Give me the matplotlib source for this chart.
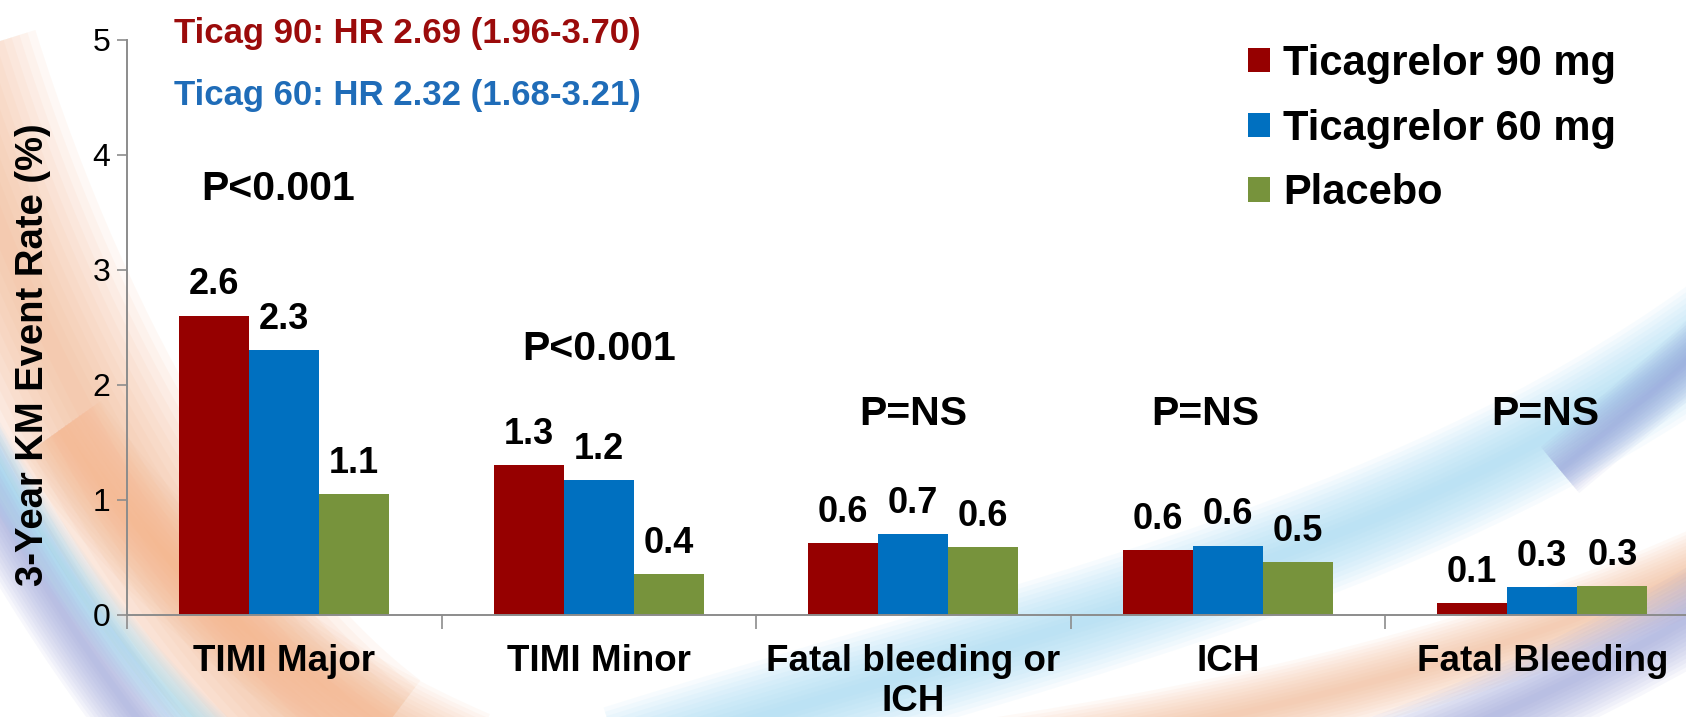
import numpy as np
import matplotlib as mpl
mpl.use("Agg")
import matplotlib.pyplot as plt
from matplotlib.path import Path
from matplotlib.patches import PathPatch

CATEGORIES = ["TIMI Major", "TIMI Minor", "Fatal bleeding or\nICH", "ICH", "Fatal Bleeding"]
SERIES = ["Ticagrelor 90 mg", "Ticagrelor 60 mg", "Placebo"]

# bar heights
TICAG_90 = [2.60, 1.30, 0.62, 0.56, 0.10]
TICAG_60 = [2.30, 1.17, 0.70, 0.60, 0.24]
PLACEBO = [1.05, 0.35, 0.59, 0.46, 0.25]

# printed value labels
LABELS_90 = ["2.6", "1.3", "0.6", "0.6", "0.1"]
LABELS_60 = ["2.3", "1.2", "0.7", "0.6", "0.3"]
LABELS_PL = ["1.1", "0.4", "0.6", "0.5", "0.3"]

P_TEXT = ["P<0.001", "P<0.001", "P=NS", "P=NS", "P=NS"]
P_X = [-0.02, 1.0, 2.0, 2.93, 4.01]
P_Y = [3.70, 2.31, 1.74, 1.74, 1.74]

HR_LINES = ["Ticag 90: HR 2.69 (1.96-3.70)", "Ticag 60: HR 2.32 (1.68-3.21)"]

COLORS = {
    "t90": "#960000",
    "t60": "#0070C0",
    "pl": "#77933C",
    "hr90": "#9B0B0B",
    "hr60": "#1F6CB8",
    "axis": "#8C8C8C",
}

W, H = 1686, 717


def soft_band(ax, pts, width, color, alpha=0.07, steps=12):
    codes = [Path.MOVETO] + [Path.CURVE4] * (len(pts) - 1)
    path = Path(pts, codes)
    for k in range(steps):
        lw = width * (1 - k / steps) / 1.389
        ax.add_patch(PathPatch(path, facecolor="none", edgecolor=color,
                               linewidth=lw, alpha=alpha, capstyle="butt"))


def draw_background(fig):
    bg = fig.add_axes([0, 0, 1, 1], zorder=0)
    bg.set_xlim(0, W)
    bg.set_ylim(H, 0)
    bg.axis("off")
    # left swoosh
    soft_band(bg, [(-60, 60), (40, 380), (200, 640), (360, 760)], 200, "#F4B286", alpha=0.08)
    soft_band(bg, [(-80, 360), (0, 520), (80, 650), (170, 760)], 80, "#8E98D6")
    soft_band(bg, [(-30, 420), (50, 560), (140, 680), (240, 760)], 50, "#9AD8F4")
    soft_band(bg, [(60, 430), (180, 600), (330, 700), (470, 760)], 100, "#F4B286")
    # right swoosh
    soft_band(bg, [(620, 760), (1000, 640), (1400, 560), (1720, 330)], 110, "#9AD8F4", alpha=0.08)
    soft_band(bg, [(980, 760), (1250, 720), (1500, 660), (1720, 560)], 80, "#F4B286")
    soft_band(bg, [(1330, 780), (1500, 720), (1620, 660), (1720, 600)], 90, "#8E98D6")
    soft_band(bg, [(1560, 470), (1620, 420), (1680, 370), (1720, 330)], 60, "#8E98D6")


def main():
    plt.rcParams["font.family"] = ["Liberation Sans", "DejaVu Sans"]
    fig = plt.figure(figsize=(W / 100, H / 100), dpi=100)
    fig.patch.set_facecolor("white")
    draw_background(fig)

    left = 127 / W
    bottom = (H - 614.5) / H
    width = 1572.5 / W
    height = 575 / H
    ax = fig.add_axes([left, bottom, width, height], zorder=1)
    ax.patch.set_alpha(0)

    x = np.arange(len(CATEGORIES))
    bw = 0.2226
    series = [
        (TICAG_90, LABELS_90, COLORS["t90"]),
        (TICAG_60, LABELS_60, COLORS["t60"]),
        (PLACEBO, LABELS_PL, COLORS["pl"]),
    ]
    for i, (vals, labs, col) in enumerate(series):
        xs = x + (i - 1) * bw
        ax.bar(xs, vals, width=bw, color=col, label=SERIES[i], zorder=2)
        for xi, v, lab in zip(xs, vals, labs):
            ax.annotate(lab, (xi, v), xytext=(0, 22), textcoords="offset points",
                        ha="center", va="center", fontsize=26, fontweight="bold")

    for px, py, t in zip(P_X, P_Y, P_TEXT):
        ax.text(px, py, t, ha="center", va="center", fontsize=29.5, fontweight="bold")

    ax.set_xlim(-0.5, len(CATEGORIES) - 0.5)
    ax.set_ylim(0, 5)
    ax.set_yticks([0, 1, 2, 3, 4, 5])
    ax.set_xticks(np.arange(len(CATEGORIES) + 1) - 0.5)
    ax.set_xticklabels([])
    ax.set_xticks(x, minor=True)
    ax.set_xticklabels(CATEGORIES, minor=True, fontsize=26.5, fontweight="bold")
    ax.tick_params(axis="x", which="minor", length=0, pad=21)
    ax.tick_params(axis="x", which="major", length=10, width=1.2, color=COLORS["axis"])
    ax.tick_params(axis="y", length=7, width=1.2, color=COLORS["axis"], labelsize=23, pad=5)
    for s in ("top", "right"):
        ax.spines[s].set_visible(False)
    for s in ("left", "bottom"):
        ax.spines[s].set_color(COLORS["axis"])
        ax.spines[s].set_linewidth(1.4)

    fig.text(33 / W, 1 - 355 / H, "3-Year KM Event Rate (%)", rotation=90,
             ha="center", va="center", fontsize=27.5, fontweight="bold")

    fig.text(174 / W, 1 - 33 / H, HR_LINES[0], ha="left", va="center",
             fontsize=25, fontweight="bold", color=COLORS["hr90"])
    fig.text(174 / W, 1 - 95 / H, HR_LINES[1], ha="left", va="center",
             fontsize=25, fontweight="bold", color=COLORS["hr60"])

    ax.legend(loc="upper left", bbox_to_anchor=(1248 / W, 1 - 44 / H),
              bbox_transform=fig.transFigure, frameon=False,
              prop={"size": 30, "weight": "bold"},
              handlelength=0.52, handleheight=0.52, handletextpad=0.32,
              labelspacing=0.59, borderaxespad=0, borderpad=0)

    fig.savefig("out.png", dpi=100)
    plt.close(fig)


if __name__ == "__main__":
    main()
